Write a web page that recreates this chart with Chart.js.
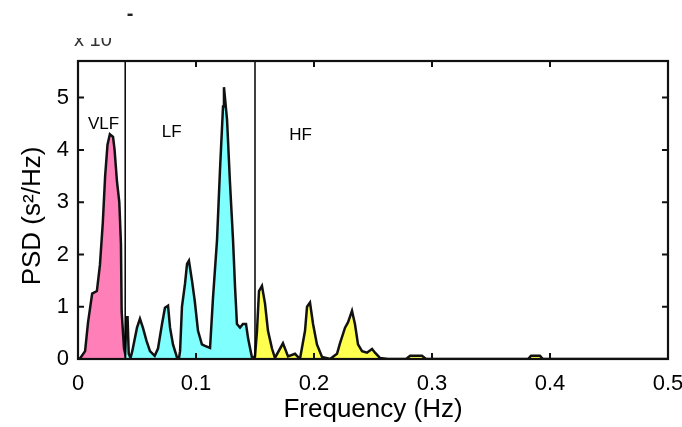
<!DOCTYPE html>
<html><head><meta charset="utf-8">
<script src="https://cdn.jsdelivr.net/npm/chart.js@4.4.0/dist/chart.umd.min.js"></script>
<style>html,body{margin:0;padding:0;background:#fff;}#wrap{width:682px;height:427px;position:relative;}</style>
</head><body><div id="wrap"><canvas id="c" width="682" height="427"></canvas></div>
<script>
// ---- data ----
const FREQ = [0.000,0.002,0.006,0.0085,0.012,0.016,0.0186,0.021,0.023,0.025,0.027,0.0297,0.031,0.033,0.035,0.0364,0.037,0.039,0.040,0.041,0.042,0.043,0.0445,
  0.046,0.050,0.0525,0.055,0.058,0.061,0.065,
  0.0678,0.0712,0.0737,0.0763,0.078,0.0805,0.084,0.0856,
  0.0865,0.0881,0.0907,0.0924,0.094,0.0966,0.099,0.1017,0.105,0.1076,0.1119,
  0.1144,0.1178,0.1203,0.1229,0.1237,0.1263,0.1288,0.1314,0.1331,0.1347,0.1373,0.1398,0.1424,0.1441,0.1475,0.150,
  0.1517,0.1534,0.1559,0.1585,0.161,0.1644,0.1669,0.1737,0.178,0.1839,0.1881,
  0.1924,0.1941,0.1966,0.1992,0.2025,0.2068,0.2136,
  0.2195,0.222,0.2263,0.2288,0.2322,0.2347,0.2373,0.2407,0.2449,0.2492,0.2517,0.2559,0.2627,
  0.278,0.2815,0.2915,0.295,0.3814,0.3839,0.3915,0.394,0.5];
const PSD = [0,0.02,0.15,0.7,1.25,1.3,1.8,2.6,3.5,4.1,4.3,4.25,4.0,3.4,3.0,2.2,0.9,0.2,0.1,0.8,0.8,0.1,0.02,
  0.15,0.6,0.77,0.6,0.35,0.15,0.06,
  0.2,0.67,0.98,1.02,0.6,0.28,0.02,0.02,
  0.15,1.0,1.44,1.82,1.88,1.5,1.1,0.54,0.28,0.25,0.21,
  1.17,2.27,3.6,4.83,5.2,4.58,3.37,2.27,1.37,0.67,0.6,0.67,0.67,0.4,0.02,0.05,
  0.54,1.3,1.4,1.06,0.54,0.2,0.02,0.3,0.05,0.1,0.0,
  0.54,1.0,1.08,0.67,0.28,0.04,0.0,
  0.1,0.3,0.6,0.7,0.92,0.67,0.28,0.15,0.12,0.19,0.12,0.02,0.0,
  0.0,0.06,0.06,0.0,0.0,0.06,0.06,0.0,0.0];
const X_TICKS = [0,0.1,0.2,0.3,0.4,0.5];
const Y_TICKS = [0,1,2,3,4,5];
const Y_MAX = 5.7;
const BANDS = ['VLF','LF','HF'];
const BAND_EDGES = [0,0.04,0.15,0.5];
const BAND_COLORS = ['#ff80b8','#80ffff','#ffff50'];
const BAND_LABEL_POS = [[0.0085,4.48],[0.071,4.33],[0.179,4.28]];
const BOUNDARIES = [0.04,0.15];
const X_TITLE = 'Frequency (Hz)';
const Y_TITLE = 'PSD (s\u00B2/Hz)';

// ---- build datasets ----
const pts = FREQ.map((f,i)=>({x:f,y:PSD[i]}));
const datasets = [];
BANDS.forEach((b,i)=>{
  datasets.push({
    label:b, data: pts.filter(p=>p.x>=BAND_EDGES[i] && p.x<=BAND_EDGES[i+1]),
    borderWidth:0, backgroundColor:BAND_COLORS[i], fill:'origin', pointRadius:0, tension:0, order:3
  });
});
datasets.push({label:'PSD', data:pts, borderColor:'#111', borderWidth:2.5, fill:false, pointRadius:0, tension:0, order:2});
BOUNDARIES.forEach(bx=>{
  datasets.push({label:'edge', data:[{x:bx,y:0},{x:bx,y:Y_MAX}], borderColor:'#000', borderWidth:1.5, fill:false, pointRadius:0, order:1});
});

const TICK_FONT = {family:"'Liberation Sans Narrow','Liberation Sans',Arial,sans-serif", size:22};

const decor = {
  id:'decor',
  afterDraw(chart){
    const ctx = chart.ctx, a = chart.chartArea, xs = chart.scales.x, ys = chart.scales.y;
    ctx.save();
    // frame
    ctx.strokeStyle='#111'; ctx.lineWidth=2.2;
    ctx.strokeRect(a.left, a.top, a.right-a.left, a.bottom-a.top);
    // inside ticks
    ctx.lineWidth=2;
    const TL=6;
    X_TICKS.forEach(v=>{
      const px = xs.getPixelForValue(v);
      ctx.beginPath(); ctx.moveTo(px,a.bottom); ctx.lineTo(px,a.bottom-TL);
      ctx.moveTo(px,a.top); ctx.lineTo(px,a.top+TL); ctx.stroke();
    });
    Y_TICKS.forEach(v=>{
      const py = ys.getPixelForValue(v);
      ctx.beginPath(); ctx.moveTo(a.left,py); ctx.lineTo(a.left+TL,py);
      ctx.moveTo(a.right,py); ctx.lineTo(a.right-TL,py); ctx.stroke();
    });
    // band labels
    ctx.fillStyle='#000';
    ctx.font="17px 'Liberation Sans',Arial,sans-serif";
    ctx.textAlign='left'; ctx.textBaseline='middle';
    BANDS.forEach((b,i)=>{
      ctx.fillText(b, xs.getPixelForValue(BAND_LABEL_POS[i][0]), ys.getPixelForValue(BAND_LABEL_POS[i][1]));
    });
    // axis titles
    ctx.font="26px 'Liberation Sans',Arial,sans-serif";
    ctx.textAlign='center'; ctx.textBaseline='middle';
    ctx.fillText(X_TITLE, (a.left+a.right)/2, 410);
    ctx.save();
    ctx.translate(33,(a.top+a.bottom)/2+6);
    ctx.rotate(-Math.PI/2);
    ctx.fillText(Y_TITLE,0,0);
    ctx.restore();
    // clipped exponent label (x 10^-3), top half cut off in reference
    ctx.save();
    ctx.beginPath(); ctx.rect(60,38,80,10); ctx.clip();
    ctx.fillStyle='#333';
    ctx.font="20px 'Liberation Sans',Arial,sans-serif";
    ctx.textAlign='left'; ctx.textBaseline='alphabetic';
    ctx.fillText('x 10',74,46);
    ctx.restore();
    ctx.save();
    ctx.beginPath(); ctx.rect(120,10,20,7); ctx.clip();
    ctx.fillStyle='#222';
    ctx.font="bold 20px 'Liberation Sans',Arial,sans-serif";
    ctx.textAlign='center'; ctx.textBaseline='middle';
    ctx.fillText('-',130,14);
    ctx.restore();
    ctx.restore();
  }
};

new Chart(document.getElementById('c'),{
  type:'line',
  data:{datasets},
  options:{
    responsive:false, animation:false, devicePixelRatio:1,
    layout:{padding:{top:61,right:14,left:0,bottom:0}},
    plugins:{legend:{display:false},tooltip:{enabled:false}},
    scales:{
      x:{type:'linear',min:0,max:0.5,
        afterBuildTicks:s=>{s.ticks=X_TICKS.map(v=>({value:v}));},
        afterFit:s=>{s.height=68; s.paddingLeft=0; s.paddingRight=0;},
        grid:{display:false,drawTicks:false},border:{display:false},
        ticks:{color:'#000',font:TICK_FONT,padding:12,maxRotation:0,autoSkip:false,
          callback:v=>String(Math.round(v*10)/10)}},
      y:{type:'linear',min:0,max:Y_MAX,
        afterBuildTicks:s=>{s.ticks=Y_TICKS.map(v=>({value:v}));},
        afterFit:s=>{s.width=78; s.paddingTop=0; s.paddingBottom=0;},
        grid:{display:false,drawTicks:false},border:{display:false},
        ticks:{color:'#000',font:TICK_FONT,padding:9,autoSkip:false}}
    }
  },
  plugins:[decor]
});
</script></body></html>
